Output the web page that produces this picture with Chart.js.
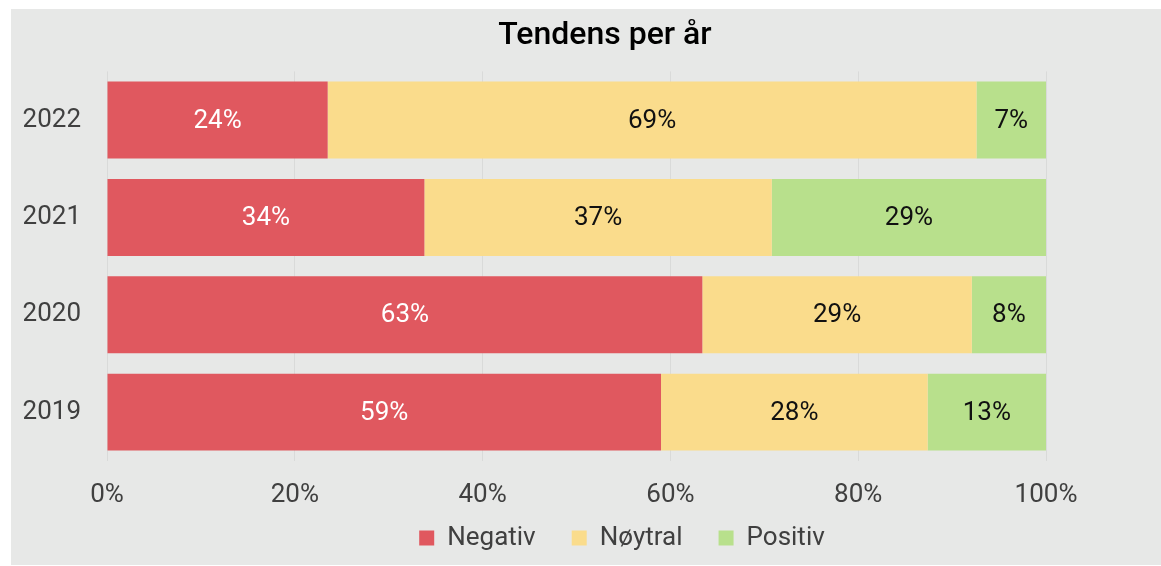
<!DOCTYPE html>
<html>
<head>
<meta charset="utf-8">
<script src="https://cdn.jsdelivr.net/npm/chart.js@4"></script>
<style>
  body { margin: 0; background: #fff; }
  #wrap { position: absolute; left: 11px; top: 9px; width: 1150px; height: 556px; overflow: hidden; background: #e7e8e7; }
  #chart1 { display: block; }
</style>
</head>
<body>
<div id="wrap"><canvas id="chart1" width="1188" height="593"></canvas></div>
<script>
// Data
const years = ['2022', '2021', '2020', '2019'];
const negativ = [23.5, 33.8, 63.4, 59.0];
const noytral = [69.1, 37.0, 28.7, 28.4];
const positiv = [7.4, 29.2, 7.9, 12.6];
const xTicks = [0, 20, 40, 60, 80, 100];

const FONT = 'Roboto';

// Draw the percentage inside each bar segment
const barLabels = {
    id: 'barLabels',
    afterDatasetsDraw(chart) {
        const ctx = chart.ctx;
        ctx.save();
        ctx.font = '26px ' + FONT;
        ctx.textAlign = 'center';
        ctx.textBaseline = 'middle';
        chart.data.datasets.forEach((ds, i) => {
            const meta = chart.getDatasetMeta(i);
            meta.data.forEach((bar, j) => {
                const p = bar.getCenterPoint();
                ctx.fillStyle = ds.labelColor;
                ctx.fillText(Math.round(ds.data[j]) + '%', p.x, p.y + 1);
            });
        });
        ctx.restore();
    }
};

// move the legend a bit right and up, like the original
const legendShift = {
    id: 'legendShift',
    afterLayout(chart) {
        const lg = chart.legend;
        lg.left += 17;
        lg.right += 17;
        lg.top -= 41;
        lg.bottom -= 41;
    }
};

const data = {
    labels: years,
    datasets: [
        { label: 'Negativ', data: negativ, backgroundColor: '#e0585f', labelColor: '#ffffff' },
        { label: 'Nøytral', data: noytral, backgroundColor: '#fadc8c', labelColor: '#111111' },
        { label: 'Positiv', data: positiv, backgroundColor: '#b8e08c', labelColor: '#111111' }
    ]
};

const options = {
    indexAxis: 'y',
    responsive: false,
    animation: false,
    barPercentage: 0.79,
    categoryPercentage: 1,
    layout: { padding: 0 },
    scales: {
        x: {
            stacked: true,
            min: 0,
            max: 100,
            afterBuildTicks: (s) => { s.ticks = xTicks.map(v => ({ value: v })); },
            afterFit: (s) => { s.paddingRight = 153; },
            grid: { color: '#d9dad9', drawTicks: false },
            border: { display: false },
            ticks: {
                padding: 19,
                color: '#404040',
                font: { family: FONT, size: 26 },
                callback: (v) => v + '%'
            }
        },
        y: {
            stacked: true,
            afterFit: (s) => { s.width = 96; },
            grid: { display: false, drawTicks: false },
            border: { display: false },
            ticks: {
                padding: 26,
                color: '#404040',
                font: { family: FONT, size: 26 }
            }
        }
    },
    plugins: {
        title: {
            display: true,
            text: 'Tendens per år',
            color: '#000',
            font: { family: FONT, size: 32, weight: '500' },
            padding: { top: 8, bottom: 16 }
        },
        legend: {
            position: 'bottom',
            labels: {
                boxWidth: 15,
                boxHeight: 15,
                padding: 36,
                color: '#404040',
                font: { family: FONT, size: 26 }
            }
        },
        tooltip: { enabled: false }
    }
};

const ctx = document.getElementById('chart1').getContext('2d');
const myChart = new Chart(ctx, {
    type: 'bar',
    data: data,
    options: options,
    plugins: [barLabels, legendShift]
});
</script>
</body>
</html>
